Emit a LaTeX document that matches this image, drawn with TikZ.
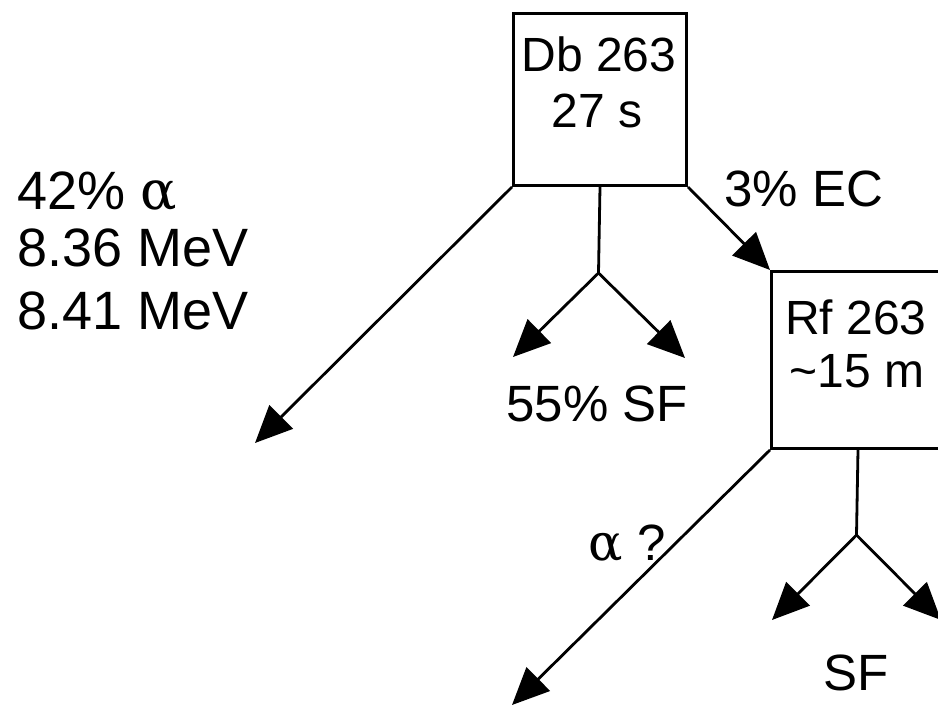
\documentclass[tikz,border=0pt]{standalone}
\usepackage{fontspec}
\setmainfont{Liberation Sans}
\newfontfamily\grk{DejaVu Serif}
\usetikzlibrary{arrows.meta}
\begin{document}
\begin{tikzpicture}[x=1pt,y=-1pt,
  box/.style={draw,line width=3pt,minimum width=173pt,minimum height=172pt,inner sep=0pt,anchor=north west},
  lbl/.style={inner sep=0pt,anchor=base,font=\fontsize{51}{56}\selectfont},
  biglbl/.style={lbl,anchor=base west,font=\fontsize{54}{56}\selectfont},
  boxlbl/.style={lbl,font=\fontsize{48}{56}\selectfont},
  arr/.style={line width=2.8pt,-{Triangle[length=37pt,width=33pt]}},
  ln/.style={line width=2.8pt}]
\useasboundingbox (0,0) rectangle (938,711);
\fill[white] (0,0) rectangle (938,711);
\clip (0,0) rectangle (938,711);
% boxes
\node[box] (db) at (512,12) {};
\node[box,minimum height=177pt] (rf) at (770,270) {};
% box texts
\node[boxlbl] (dbt1) at (599,72) {Db 263};
\node[boxlbl] (dbt2) at (597,128) {27 s};
\node[boxlbl] (rft1) at (856,335) {Rf 263};
\node[boxlbl] (rft2) at (857,388) {\textasciitilde15 m};
% end points
\coordinate (a1) at (255,443);
\coordinate (j1) at (598.5,273);
\coordinate (s1) at (513,357);
\coordinate (s2) at (685,358);
\coordinate (a2) at (512,705);
\coordinate (j2) at (856.5,535);
\coordinate (s3) at (772,620);
\coordinate (s4) at (941,620);
% connectors
\draw[arr] (db.south west) -- (a1);
\draw[ln] (db.south) -- (j1);
\draw[arr] (j1) -- (s1);
\draw[arr] (j1) -- (s2);
\draw[arr] (db.south east) -- (rf.north west);
\draw[arr] (rf.south west) -- (a2);
\draw[ln] (rf.south) -- (j2);
\draw[arr] (j2) -- (s3);
\draw[arr] (j2) -- (s4);
% labels
\node[biglbl] (l1) at (17,210) {42\% {\grk α}};
\node[biglbl] (l2) at (17,267) {8.36 MeV};
\node[biglbl] (l3) at (17,330) {8.41 MeV};
\node[lbl] (sf1) at (597,422) {55\% SF};
\node[lbl] (ec) at (804,207) {3\% EC};
\node[lbl] (aq) at (627,560) {{\grk α} ?};
\node[lbl] (sf2) at (856,690) {SF};
\end{tikzpicture}
\end{document}
